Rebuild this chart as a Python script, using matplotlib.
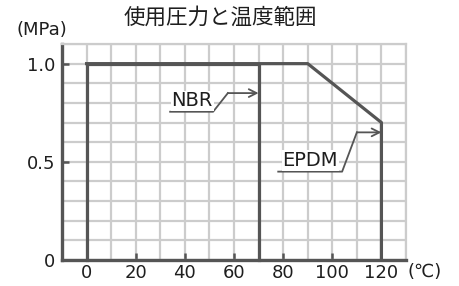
import matplotlib.pyplot as plt
from matplotlib.ticker import MultipleLocator

# Pressure / temperature ranges
nbr_temp = [0, 0, 70, 70]
nbr_press = [0, 1.0, 1.0, 0]
epdm_temp = [0, 90, 120, 120]
epdm_press = [1.0, 1.0, 0.7, 0]

x_ticks = [0, 20, 40, 60, 80, 100, 120]
y_ticks = [0, 0.5, 1.0]
y_tick_labels = ['0', '0.5', '1.0']

# label leader lines (underline, bend, arrow tip)
nbr_leader_x = [34, 51.5, 57.5]
nbr_leader_y = [0.755, 0.755, 0.85]
nbr_arrow_tip = (70, 0.85)
epdm_leader_x = [78, 104, 110]
epdm_leader_y = [0.45, 0.45, 0.65]
epdm_arrow_tip = (120, 0.65)

dark = '#555555'
gridc = '#cccccc'
txt = '#1e1e1e'

fig = plt.figure(figsize=(4.6, 2.86), dpi=100)
ax = fig.add_axes([62/460, 26/286, 344/460, 216/286])

ax.set_xlim(-10, 130)
ax.set_ylim(0, 1.1)
ax.xaxis.set_minor_locator(MultipleLocator(10))
ax.yaxis.set_minor_locator(MultipleLocator(0.1))
ax.set_xticks(x_ticks)
ax.set_xticklabels([str(t) for t in x_ticks])
ax.set_yticks(y_ticks)
ax.set_yticklabels(y_tick_labels)
ax.grid(True, which='both', color=gridc, lw=1.6, zorder=0)
ax.set_axisbelow(True)

ax.tick_params(which='major', direction='in', length=5, width=1.8, color=dark,
               labelsize=13, labelcolor=txt, pad=3)
ax.tick_params(which='minor', length=0)
ax.tick_params(axis='y', pad=5)

for s in ['left', 'bottom']:
    ax.spines[s].set_color(dark)
    ax.spines[s].set_linewidth(2.4)
for s in ['top', 'right']:
    ax.spines[s].set_color(gridc)
    ax.spines[s].set_linewidth(1.6)

ax.plot(nbr_temp, nbr_press, color=dark, lw=2.3, zorder=3, clip_on=False)
ax.plot(epdm_temp, epdm_press, color=dark, lw=2.3, zorder=3, clip_on=False)

# NBR label
ax.plot(nbr_leader_x, nbr_leader_y, color=dark, lw=1.3, zorder=4)
ax.annotate('', xy=nbr_arrow_tip, xytext=(nbr_leader_x[-1], nbr_leader_y[-1]),
            arrowprops=dict(arrowstyle='->', color=dark, lw=1.3,
                            mutation_scale=14, shrinkA=0, shrinkB=0), zorder=4)
ax.text(43, 0.762, 'NBR', fontsize=14, ha='center', va='bottom',
        color=txt, zorder=5,
        bbox=dict(facecolor='white', edgecolor='none', pad=0.5))

# EPDM label
ax.plot(epdm_leader_x, epdm_leader_y, color=dark, lw=1.3, zorder=4)
ax.annotate('', xy=epdm_arrow_tip, xytext=(epdm_leader_x[-1], epdm_leader_y[-1]),
            arrowprops=dict(arrowstyle='->', color=dark, lw=1.3,
                            mutation_scale=14, shrinkA=0, shrinkB=0), zorder=4)
ax.text(91, 0.458, 'EPDM', fontsize=14, ha='center', va='bottom',
        color=txt, zorder=5,
        bbox=dict(facecolor='white', edgecolor='none', pad=0.5))

fig.text(220/460, 1 - 18/286, '使用圧力と温度範囲', fontsize=15.5,
         family=['Noto Sans CJK JP', 'DejaVu Sans'], ha='center', va='center',
         color=txt)
fig.text(42/460, 1 - 30/286, '(MPa)', fontsize=13, ha='center', va='center',
         color=txt)
fig.text(408/460, 1 - 272/286, '(℃)', fontsize=13,
         family=['DejaVu Sans', 'Noto Sans CJK JP'], ha='left', va='center',
         color=txt)

fig.savefig('out.png', dpi=100)
